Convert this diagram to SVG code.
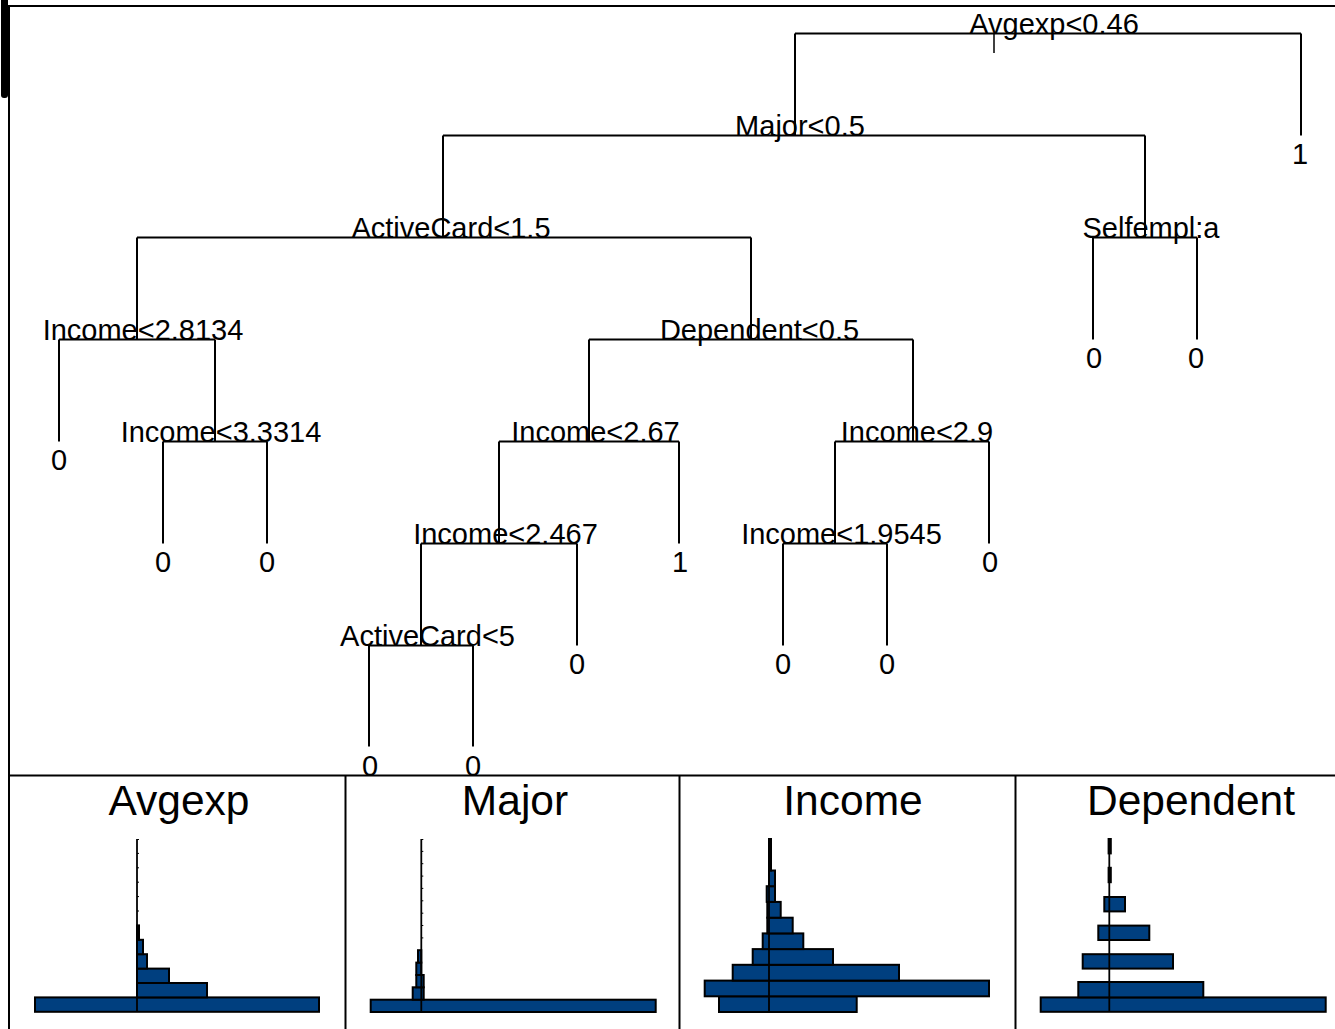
<svg xmlns="http://www.w3.org/2000/svg" width="1335" height="1029" viewBox="0 0 1335 1029">
<style>
.t{font-family:"Liberation Sans",Arial,sans-serif;font-size:29px;fill:#000;text-anchor:middle}
.h{font-family:"Liberation Sans",Arial,sans-serif;font-size:42.5px;fill:#000;text-anchor:middle}
.e{fill:none;stroke:#000;stroke-width:2}
.f{fill:none;stroke:#000;stroke-width:2}
.b{fill:#003f7f;stroke:#000;stroke-width:2}
.ax{stroke:#000;stroke-width:1.8}
.tk{stroke:#000;stroke-width:1}
</style>
<rect width="1335" height="1029" fill="#fff"/>
<rect x="1" y="-6" width="7" height="104" rx="3" fill="#000"/>
<g id="frame">
<path class="f" d="M8 6 H1335 M9 6 V1029 M9 775.5 H1335 M345.5 775.5 V1029 M679.5 775.5 V1029 M1015.5 775.5 V1029"/>
</g>
<g id="connectors">
<path class="e" d="M795 33.5 H1301 M795 33.5 V135.5 M1301 33.5 V135.5"/>
<path stroke="#000" stroke-width="1.5" d="M994 33.5 V53"/>
<path class="e" d="M443 135.5 H1145 M443 135.5 V237.5 M1145 135.5 V237.5"/>
<path class="e" d="M1093 237.5 H1197 M1093 237.5 V339.5 M1197 237.5 V339.5"/>
<path class="e" d="M137 237.5 H751 M137 237.5 V339.5 M751 237.5 V339.5"/>
<path class="e" d="M59 339.5 H215 M59 339.5 V441.5 M215 339.5 V441.5"/>
<path class="e" d="M163 441.5 H267 M163 441.5 V543.5 M267 441.5 V543.5"/>
<path class="e" d="M589 339.5 H913 M589 339.5 V441.5 M913 339.5 V441.5"/>
<path class="e" d="M499 441.5 H679 M499 441.5 V543.5 M679 441.5 V543.5"/>
<path class="e" d="M421 543.5 H577 M421 543.5 V645.5 M577 543.5 V645.5"/>
<path class="e" d="M369 645.5 H473 M369 645.5 V746.5 M473 645.5 V746.5"/>
<path class="e" d="M835 441.5 H989 M835 441.5 V543.5 M989 441.5 V543.5"/>
<path class="e" d="M783 543.5 H887 M783 543.5 V645.5 M887 543.5 V645.5"/>
</g>
<g id="n-root"><text class="t" x="1054" y="34">Avgexp&lt;0.46</text></g>
<g id="n-major"><text class="t" x="800" y="136">Major&lt;0.5</text></g>
<g id="n-selfempl"><text class="t" x="1151" y="238">Selfempl:a</text></g>
<g id="n-activecard15"><text class="t" x="451" y="238">ActiveCard&lt;1.5</text></g>
<g id="n-income28134"><text class="t" x="143" y="340">Income&lt;2.8134</text></g>
<g id="n-income33314"><text class="t" x="221" y="442">Income&lt;3.3314</text></g>
<g id="n-dependent"><text class="t" x="759.5" y="340">Dependent&lt;0.5</text></g>
<g id="n-income267"><text class="t" x="595.5" y="442">Income&lt;2.67</text></g>
<g id="n-income2467"><text class="t" x="505.5" y="544">Income&lt;2.467</text></g>
<g id="n-activecard5"><text class="t" x="427.5" y="646">ActiveCard&lt;5</text></g>
<g id="n-income29"><text class="t" x="917" y="442">Income&lt;2.9</text></g>
<g id="n-income19545"><text class="t" x="841.5" y="544">Income&lt;1.9545</text></g>
<g id="leaves">
<text class="t" x="1300" y="164">1</text>
<text class="t" x="1094" y="368">0</text>
<text class="t" x="1196" y="368">0</text>
<text class="t" x="59" y="470">0</text>
<text class="t" x="163" y="572">0</text>
<text class="t" x="267" y="572">0</text>
<text class="t" x="680" y="572">1</text>
<text class="t" x="990" y="572">0</text>
<text class="t" x="577" y="674">0</text>
<text class="t" x="783" y="674">0</text>
<text class="t" x="887" y="674">0</text>
<text class="t" x="370" y="776">0</text>
<text class="t" x="473" y="776">0</text>
</g>
<g id="hist-avgexp">
<text class="h" x="179" y="815">Avgexp</text>
<rect class="b" x="35" y="997.4" width="284" height="14.4"/>
<rect class="b" x="137" y="983" width="70" height="14.4"/>
<rect class="b" x="137" y="968.6" width="32" height="14.4"/>
<rect class="b" x="137" y="954.2" width="10" height="14.4"/>
<rect class="b" x="137" y="939.8" width="6" height="14.4"/>
<rect class="b" x="137" y="925.4" width="2" height="14.4"/>
<line class="ax" x1="137" y1="839" x2="137" y2="1012"/>
<path class="tk" d="M137 839.5 h2 M137 853.4 h2 M137 867.8 h2 M137 882.2 h2 M137 896.6 h2 M137 911 h2"/>
</g>
<g id="hist-major">
<text class="h" x="515" y="815">Major</text>
<rect class="b" x="370.7" y="999.7" width="285" height="12.3"/>
<rect class="b" x="412.7" y="987.3" width="11" height="12.4"/>
<rect class="b" x="416.3" y="975" width="7.4" height="12.3"/>
<rect class="b" x="416.3" y="962.6" width="5" height="12.4"/>
<rect class="b" x="418" y="950.2" width="3.3" height="12.4"/>
<line class="ax" x1="421.3" y1="839" x2="421.3" y2="1012"/>
<path class="tk" d="M421.3 839.5 h2 M421.3 851.4 h2 M421.3 863.7 h2 M421.3 876.1 h2 M421.3 888.4 h2 M421.3 900.8 h2 M421.3 913.2 h2 M421.3 925.5 h2 M421.3 937.9 h2"/>
</g>
<g id="hist-income">
<text class="h" x="853" y="815">Income</text>
<rect class="b" x="719" y="996.3" width="137.7" height="15.7"/>
<rect class="b" x="704.7" y="980.6" width="284.3" height="15.7"/>
<rect class="b" x="732.7" y="964.8" width="166.3" height="15.8"/>
<rect class="b" x="752.7" y="949.1" width="80.3" height="15.7"/>
<rect class="b" x="762.7" y="933.4" width="40.6" height="15.7"/>
<rect class="b" x="767.3" y="917.7" width="25.4" height="15.7"/>
<rect class="b" x="767.3" y="901.9" width="13.4" height="15.8"/>
<rect class="b" x="766.7" y="886.2" width="8.3" height="15.7"/>
<rect class="b" x="769" y="870.5" width="6" height="15.7"/>
<rect class="b" x="769" y="854.7" width="2" height="15.8"/>
<rect class="b" x="769" y="839" width="2" height="15.7"/>
<line class="ax" x1="769" y1="839" x2="769" y2="1012"/>
</g>
<g id="hist-dependent">
<text class="h" x="1191" y="815">Dependent</text>
<rect class="b" x="1040.7" y="997.4" width="285" height="14.4"/>
<rect class="b" x="1078.3" y="982" width="125" height="15.4"/>
<rect class="b" x="1082.7" y="954.2" width="90.3" height="14.4"/>
<rect class="b" x="1098.3" y="925.6" width="51" height="14.4"/>
<rect class="b" x="1104.3" y="897" width="20.7" height="14.4"/>
<rect class="b" x="1108.6" y="867.8" width="2.2" height="14.4"/>
<rect class="b" x="1108.6" y="839" width="2.2" height="14.4"/>
<line class="ax" x1="1109.3" y1="839" x2="1109.3" y2="1012"/>
</g>
</svg>
